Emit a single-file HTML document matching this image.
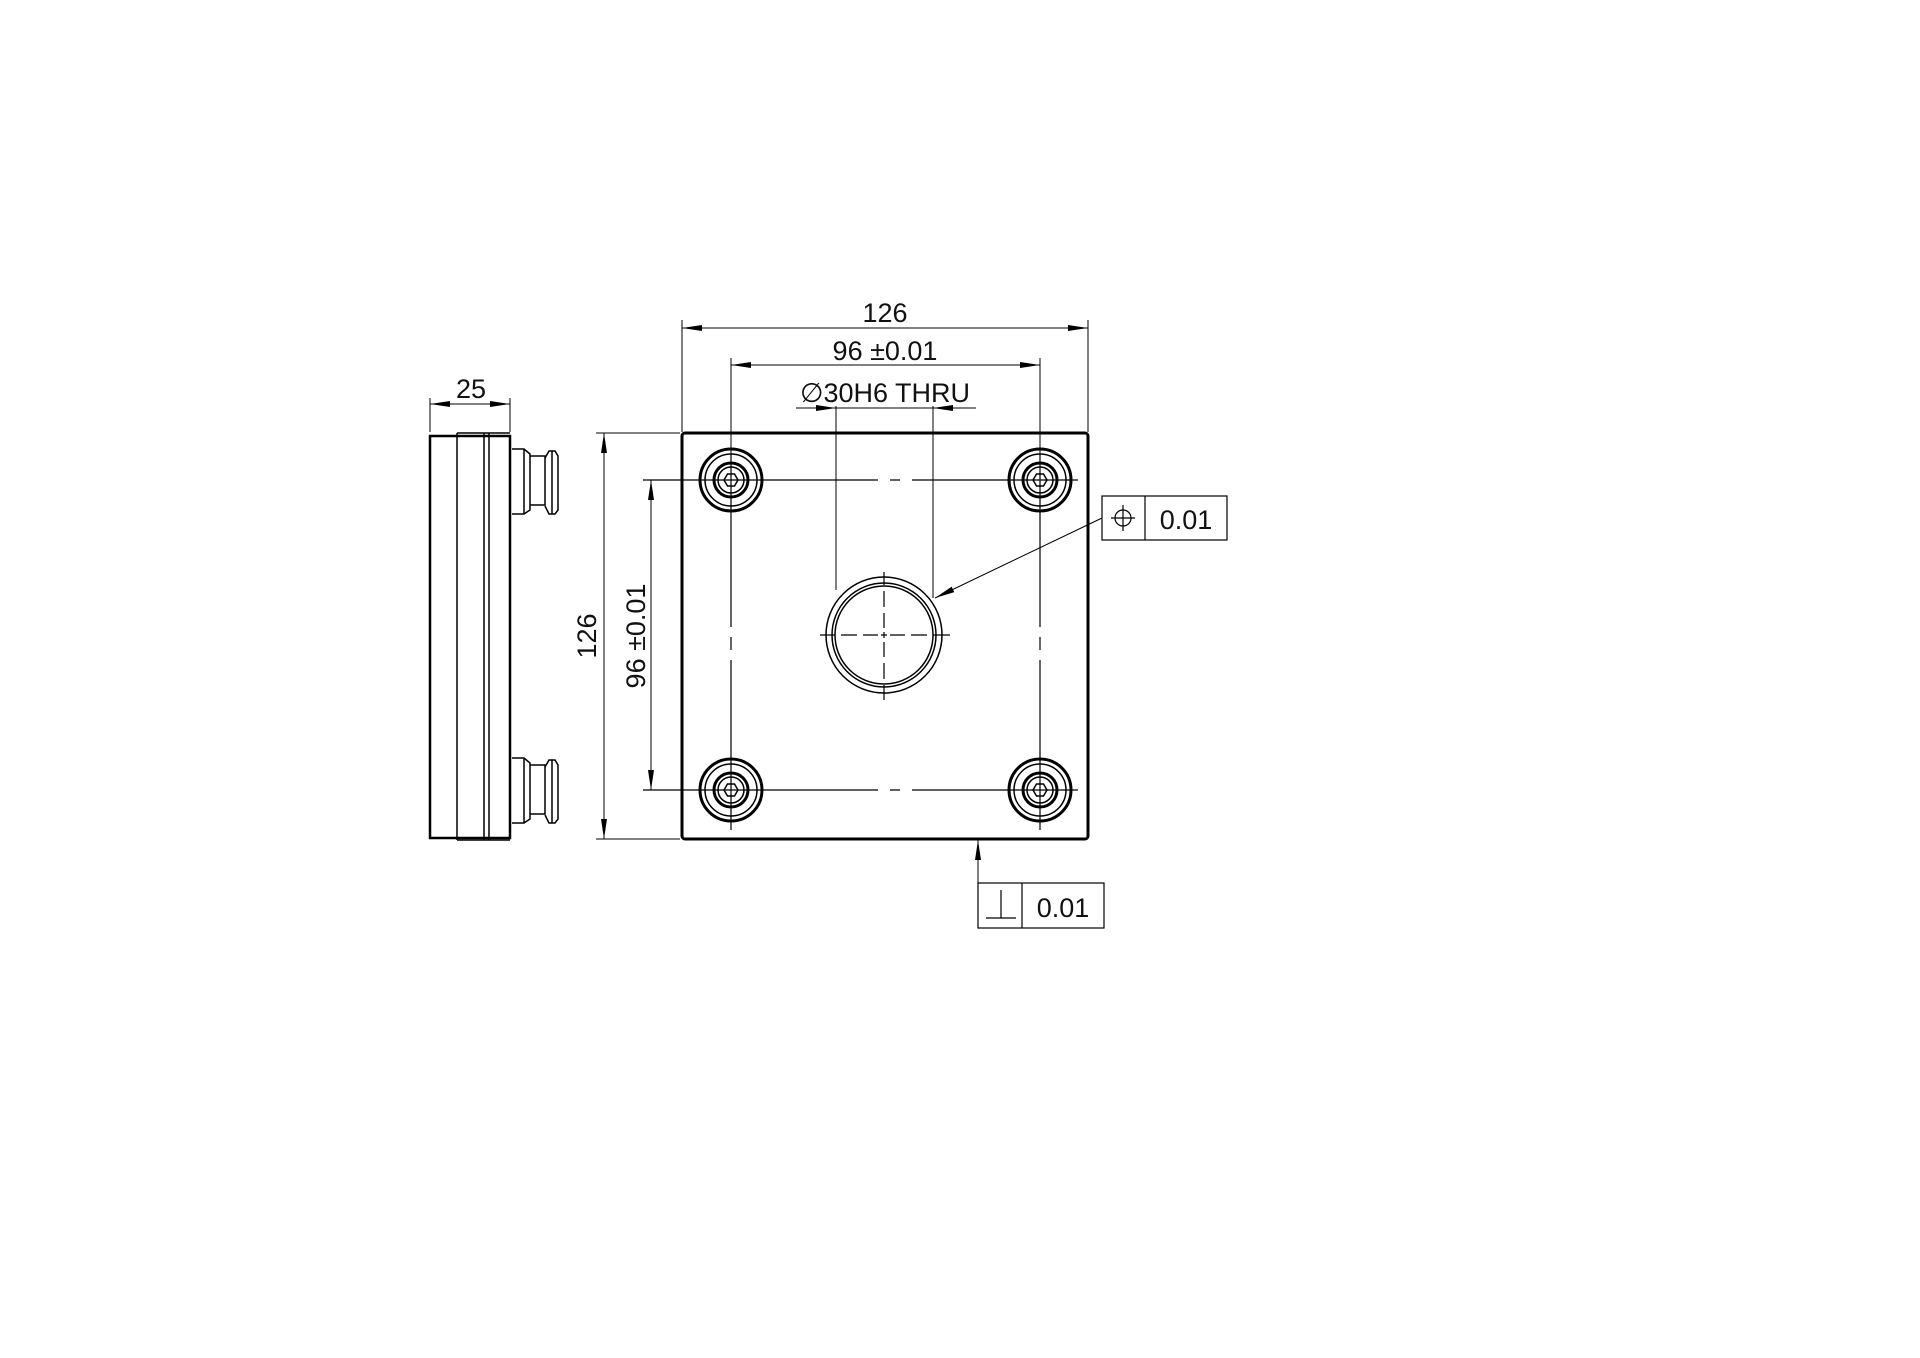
<!DOCTYPE html>
<html><head><meta charset="utf-8"><style>
html,body{margin:0;padding:0;background:#fff;}
svg{display:block}
text{font-family:"Liberation Sans",sans-serif;fill:#111;}
</style></head><body>
<svg width="1920" height="1358" viewBox="0 0 1920 1358" xmlns="http://www.w3.org/2000/svg">
<defs>
<marker id="a" viewBox="0 0 20 8" refX="20" refY="4" markerWidth="20" markerHeight="8" markerUnits="userSpaceOnUse" orient="auto-start-reverse"><path d="M0,1 L20,4 L0,7 z" fill="#000"/></marker>
</defs>
<g stroke="#000" fill="none" stroke-width="1.5">
<!-- side view -->
<rect x="430" y="436" width="80" height="402" stroke-width="2.5"/>
<line x1="457" y1="433" x2="457" y2="840"/>
<line x1="484" y1="433" x2="484" y2="840"/>
<line x1="489" y1="433" x2="489" y2="840"/>
<line x1="457" y1="433" x2="510" y2="433"/>
<line x1="457" y1="840" x2="510" y2="840"/>
<g id="fit">
<path d="M512,449 H524 L530,454 V510 L524,514 H512" />
<path d="M530,456 H545 V505 H530"/>
<path d="M545,458 L549,451 H555 L558,456 V510 L555,514 H549 L545,506"/>
<line x1="524" y1="449" x2="524" y2="514"/>
<line x1="552" y1="451" x2="552" y2="514"/>
</g>
<use href="#fit" transform="translate(0,309)"/>
<!-- 25 dim -->
<line x1="430" y1="398" x2="430" y2="432" stroke-width="1"/>
<line x1="510" y1="398" x2="510" y2="432" stroke-width="1"/>
<line x1="430" y1="404" x2="510" y2="404" stroke-width="1" marker-start="url(#a)" marker-end="url(#a)"/>

<!-- plate -->
<rect x="682" y="433" width="406" height="406" rx="3" stroke-width="3"/>
<!-- center lines -->
<g stroke-width="1.2">
<path d="M643,480 H878 M890,480 H900 M912,480 H1078"/>
<path d="M643,790 H878 M890,790 H900 M912,790 H1078"/>
<path d="M731,455 V627 M731,637 V650 M731,660 V830"/>
<path d="M1040,455 V627 M1040,637 V650 M1040,660 V830"/>
</g>
<!-- holes -->
<g id="h">
<circle cx="731" cy="480" r="31" stroke-width="3"/>
<circle cx="731" cy="480" r="26"/>
<circle cx="731" cy="480" r="17" stroke-width="3"/>
<circle cx="731" cy="480" r="13"/>
<path d="M724,480 L727.5,474 H734.5 L738,480 L734.5,486 H727.5 Z"/>
</g>
<use href="#h" transform="translate(309,0)"/>
<use href="#h" transform="translate(0,310)"/>
<use href="#h" transform="translate(309,310)"/>
<!-- center hole -->
<circle cx="884" cy="635" r="58"/>
<circle cx="884" cy="635" r="52"/>
<circle cx="884" cy="635" r="49"/>
<path d="M820,635 H835 M841,635 H857 M863,635 H878 M881,635 H887 M890,635 H905 M911,635 H927 M933,635 H950" stroke-width="1.2"/>
<path d="M884,572 V585 M884,591 V607 M884,613 V628 M884,632 V638 M884,642 V657 M884,663 V679 M884,685 V700" stroke-width="1.2"/>

<!-- top dims -->
<g stroke-width="1">
<line x1="682" y1="320" x2="682" y2="432"/>
<line x1="1088" y1="320" x2="1088" y2="432"/>
<line x1="682" y1="328" x2="1088" y2="328" marker-start="url(#a)" marker-end="url(#a)"/>
<line x1="731" y1="358" x2="731" y2="470"/>
<line x1="1040" y1="358" x2="1040" y2="470"/>
<line x1="731" y1="365" x2="1040" y2="365" marker-start="url(#a)" marker-end="url(#a)"/>
<line x1="836" y1="406" x2="836" y2="590"/>
<line x1="933" y1="406" x2="933" y2="598"/>
<line x1="796" y1="408" x2="836" y2="408" marker-end="url(#a)"/>
<line x1="976" y1="408" x2="933" y2="408" marker-end="url(#a)"/>
<line x1="836" y1="408" x2="933" y2="408"/>
<!-- left dims -->
<line x1="596" y1="433" x2="680" y2="433"/>
<line x1="596" y1="839" x2="680" y2="839"/>
<line x1="604" y1="433" x2="604" y2="839" marker-start="url(#a)" marker-end="url(#a)"/>
<line x1="644" y1="480" x2="720" y2="480"/>
<line x1="644" y1="790" x2="720" y2="790"/>
<line x1="651" y1="480" x2="651" y2="790" marker-start="url(#a)" marker-end="url(#a)"/>
<!-- FCF leaders -->
<line x1="1102" y1="518" x2="935" y2="598" marker-end="url(#a)"/>
<line x1="978" y1="883" x2="978" y2="840" marker-end="url(#a)"/>
</g>
<!-- FCF boxes -->
<rect x="1102" y="496" width="125" height="44" stroke-width="1.2"/>
<line x1="1145" y1="496" x2="1145" y2="540" stroke-width="1.2"/>
<circle cx="1123" cy="518" r="8" stroke-width="1.2"/>
<line x1="1111" y1="518" x2="1135" y2="518" stroke-width="1.2"/>
<line x1="1123" y1="505" x2="1123" y2="531" stroke-width="1.2"/>
<rect x="978" y="883" width="126" height="45" stroke-width="1.2"/>
<line x1="1022" y1="883" x2="1022" y2="928" stroke-width="1.2"/>
<line x1="986" y1="918" x2="1016" y2="918" stroke-width="1.2"/>
<line x1="1001" y1="890" x2="1001" y2="918" stroke-width="1.2"/>
</g>
<g font-size="27">
<text x="885" y="322" text-anchor="middle">126</text>
<text x="885" y="360" text-anchor="middle">96 ±0.01</text>
<text x="885" y="402" text-anchor="middle">∅30H6 THRU</text>
<text x="471" y="398" text-anchor="middle">25</text>
<text transform="translate(596,636) rotate(-90)" text-anchor="middle">126</text>
<text transform="translate(645,636) rotate(-90)" text-anchor="middle">96 ±0.01</text>
<text x="1186" y="529" text-anchor="middle">0.01</text>
<text x="1063" y="917" text-anchor="middle">0.01</text>
</g>
</svg>
</body></html>
